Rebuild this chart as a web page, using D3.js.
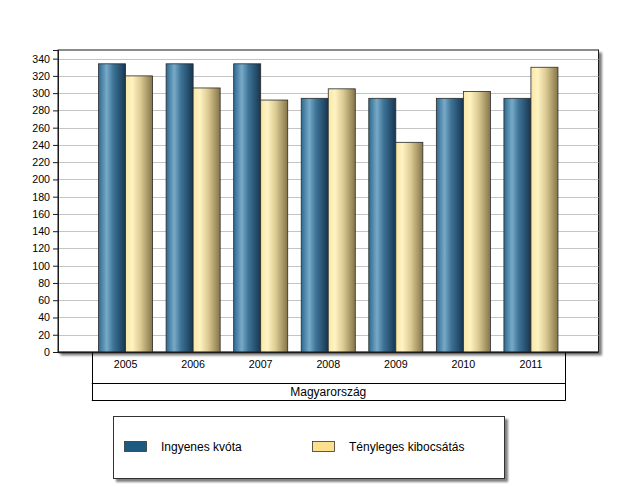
<!DOCTYPE html>
<html><head><meta charset="utf-8">
<script src="https://cdn.jsdelivr.net/npm/d3@7"></script>
<style>body{margin:0;background:#fff;}svg{display:block;font-family:Arial,"Liberation Sans",sans-serif;}</style>
</head><body>
<script>
const categories = ["2005","2006","2007","2008","2009","2010","2011"];
const groupLabel = "Magyarország";
const seriesNames = ["Ingyenes kvóta","Tényleges kibocsátás"];
const quota = [334,334,334,294,294,294,294];
const emission = [320,306,292,305,243,302,330];
const yTicks = d3.range(0,341,20);

const W=618,H=494;
const svg=d3.select("body").append("svg").attr("width",W).attr("height",H);
const defs=svg.append("defs");
function grad(id,stops){
  const g=defs.append("linearGradient").attr("id",id).attr("x1","0%").attr("x2","100%").attr("y1","0").attr("y2","0");
  stops.forEach(s=>g.append("stop").attr("offset",s[0]).attr("stop-color",s[1]));
}
grad("gBlue",[["0%","#2c6990"],["30%","#78aac8"],["55%","#3d7397"],["100%","#173650"]]);
grad("gYel",[["0%","#f8e7a6"],["25%","#fff3c2"],["55%","#dccb94"],["100%","#857548"]]);
const shadow=defs.append("filter").attr("id","sh").attr("x","-5%").attr("y","-5%").attr("width","115%").attr("height","115%");
shadow.append("feGaussianBlur").attr("in","SourceAlpha").attr("stdDeviation",1.2);
shadow.append("feOffset").attr("dx",2.5).attr("dy",2.5).attr("result","o");
shadow.append("feComponentTransfer").append("feFuncA").attr("type","linear").attr("slope",0.5);
const fm=shadow.append("feMerge");fm.append("feMergeNode");fm.append("feMergeNode").attr("in","SourceGraphic");

const L=58,R=598.5,T=50,B=352;
const x=d3.scaleBand().domain(categories).range([L,R]).paddingInner(0).paddingOuter(0.5);
const xs=d3.scaleBand().domain([0,1]).range([0,x.bandwidth()]).paddingOuter(0.25).paddingInner(0);
const y=d3.scaleLinear().domain([0,350]).range([B,T]);

// frame
svg.append("rect").attr("x",L).attr("y",T).attr("width",R-L).attr("height",B-T).attr("fill","#fff").attr("stroke","#1a1a1a").attr("filter","url(#sh)");
// grid
svg.append("g").selectAll("line").data(yTicks.filter(d=>d>0)).join("line")
 .attr("x1",L).attr("x2",R).attr("y1",d=>Math.round(y(d))+0.5).attr("y2",d=>Math.round(y(d))+0.5)
 .attr("stroke","#c4c4c4");
// y axis
const ya=svg.append("g").attr("transform",`translate(${L},0)`).call(d3.axisLeft(y).tickValues(yTicks).tickSize(5).tickPadding(3));
ya.select(".domain").attr("stroke","#1a1a1a");
ya.selectAll(".tick line").attr("stroke","#1a1a1a");
ya.selectAll("text").attr("font-size","10.67px").attr("fill","#000").attr("font-family","Arial,'Liberation Sans',sans-serif");

// bars
const series=[quota,emission];
const fills=["url(#gBlue)","url(#gYel)"];
series.forEach((vals,si)=>{
  svg.append("g").selectAll("rect").data(vals).join("rect")
   .attr("x",(d,i)=>x(categories[i])+xs(si)).attr("width",xs.bandwidth())
   .attr("y",d=>y(d)).attr("height",d=>B-y(d))
   .attr("fill",fills[si]).attr("stroke","#2a2a2a").attr("stroke-width",0.8);
});
// bottom axis line
svg.append("line").attr("x1",L).attr("x2",R).attr("y1",B+0.5).attr("y2",B+0.5).attr("stroke","#1a1a1a").attr("stroke-width",1.5);

// category box
const cx0=x(categories[0]), cx1=x(categories[categories.length-1])+x.bandwidth();
const g=svg.append("g");
g.append("line").attr("x1",Math.round(cx0)+0.5).attr("x2",Math.round(cx0)+0.5).attr("y1",B).attr("y2",400.5).attr("stroke","#000");
g.append("line").attr("x1",Math.round(cx1)+0.5).attr("x2",Math.round(cx1)+0.5).attr("y1",B).attr("y2",400.5).attr("stroke","#000");
g.append("line").attr("x1",cx0).attr("x2",cx1+1).attr("y1",383.5).attr("y2",383.5).attr("stroke","#000");
g.append("line").attr("x1",cx0).attr("x2",cx1+1).attr("y1",400.5).attr("y2",400.5).attr("stroke","#000");
g.selectAll("text.c").data(categories).join("text").attr("class","c")
 .attr("x",d=>x(d)+x.bandwidth()/2).attr("y",368).attr("text-anchor","middle").attr("font-size","10.67px").text(d=>d);
g.append("text").attr("x",(cx0+cx1)/2).attr("y",396).attr("text-anchor","middle").attr("font-size","12px").text(groupLabel);

// legend
const lg=svg.append("g");
lg.append("rect").attr("x",113.5).attr("y",416.5).attr("width",391).attr("height",62).attr("fill","#fff").attr("stroke","#333").attr("filter","url(#sh)");
const lx=[124,312];
const lfill=["#1d5a80","#fbe08e"];
seriesNames.forEach((n,i)=>{
  lg.append("rect").attr("x",lx[i]+0.5).attr("y",441.5).attr("width",22).attr("height",10).attr("fill",lfill[i]).attr("stroke","#333").attr("stroke-width",0.8);
  lg.append("text").attr("x",lx[i]+37).attr("y",451).attr("font-size","12px").text(n);
});
</script>
</body></html>
